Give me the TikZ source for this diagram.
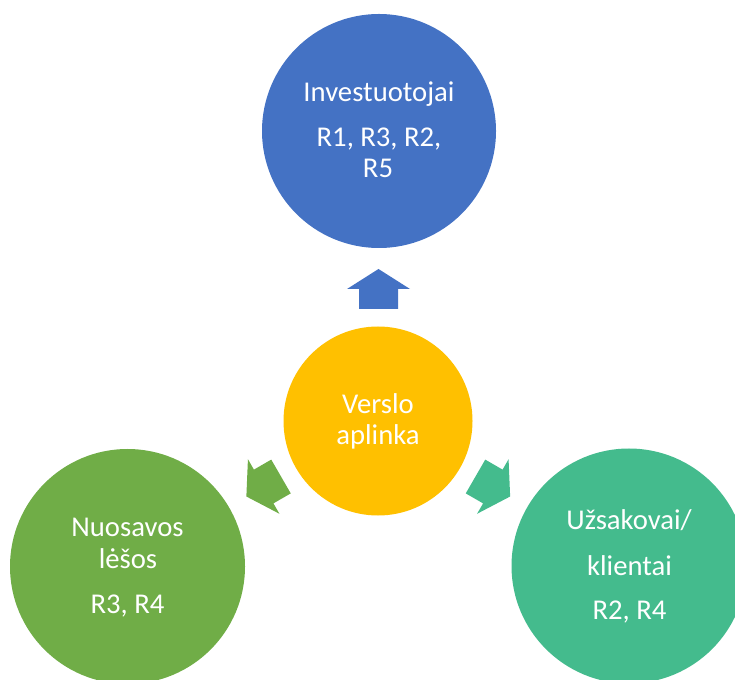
\documentclass[tikz,border=0pt]{standalone}
\usepackage{fontspec}
\setmainfont{Carlito}
\definecolor{cblue}{HTML}{4472C4}
\definecolor{cyellow}{HTML}{FFC000}
\definecolor{cgreen}{HTML}{70AD47}
\definecolor{cteal}{HTML}{44BB8D}
\tikzset{
  disc/.style={circle, draw=none, inner sep=0pt},
  lbl/.style={anchor=base, inner sep=0pt, text=white, font=\fontsize{21.5}{24}\selectfont},
}
\begin{document}
\begin{tikzpicture}[x=0.75pt, y=-0.75pt]
  \useasboundingbox (0,0) rectangle (735,680);
  \clip (0,0) rectangle (735,680);

  % circles
  \node[disc, fill=cblue,   minimum size=234pt*0.75] (inv) at (379,131) {};
  \node[disc, fill=cyellow, minimum size=189pt*0.75] (env) at (378,421) {};
  \node[disc, fill=cgreen,  minimum size=235pt*0.75] (own) at (127.5,566.5) {};
  \node[disc, fill=cteal,   minimum size=235pt*0.75] (cli) at (629,566) {};

  % block arrows pointing out from the centre circle
  \fill[cblue] (398,309) -- (398,289) -- (410,289) -- (378.5,269)
     -- (347,289) -- (359,289) -- (359,309) -- cycle;
  \fill[cgreen] (290.75,493.39) -- (273.43,503.39) -- (279.43,513.78) -- (246.36,496.5)
     -- (247.93,459.22) -- (253.93,469.61) -- (271.25,459.61) -- cycle;
  \fill[cteal] (465.75,493.39) -- (483.07,503.39) -- (477.07,513.78) -- (510.14,496.5)
     -- (508.57,459.22) -- (502.57,469.61) -- (485.25,459.61) -- cycle;

  % texts
  \node[lbl] (inv1) at (379,101.5) {Investuotojai};
  \node[lbl] (inv2) at (379,146.5) {R1, R3, R2,};
  \node[lbl] (inv3) at (378,177.5) {R5};

  \node[lbl] (env1) at (378,414) {Verslo};
  \node[lbl] (env2) at (378,444.5) {aplinka};

  \node[lbl] (own1) at (127.5,536) {Nuosavos};
  \node[lbl] (own2) at (128,568.5) {lėšos};
  \node[lbl] (own3) at (127.5,613) {R3, R4};

  \node[lbl] (cli1) at (629,529.5) {Užsakovai/};
  \node[lbl] (cli2) at (629.5,575) {klientai};
  \node[lbl] (cli3) at (629.5,619.5) {R2, R4};
\end{tikzpicture}
\end{document}
